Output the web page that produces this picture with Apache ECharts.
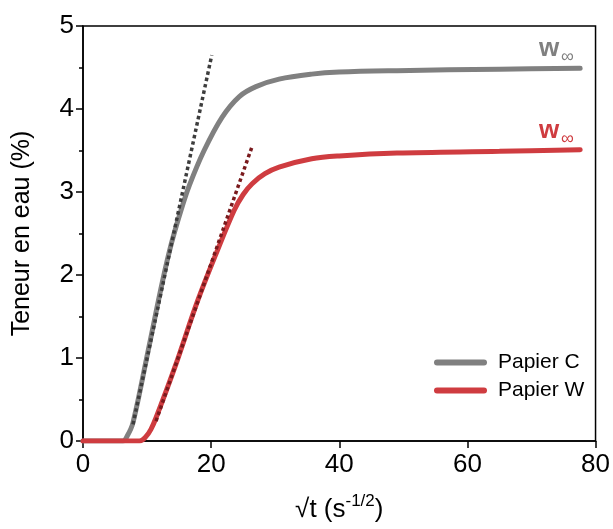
<!DOCTYPE html>
<html>
<head>
<meta charset="utf-8">
<script src="https://cdn.jsdelivr.net/npm/echarts@6/dist/echarts.min.js"></script>
<style>html,body{margin:0;padding:0;background:#fff}#c{width:613px;height:529px}</style>
</head>
<body>
<div id="c"></div>
<script>
// Data
var cX = [0, 6.2, 6.9, 7.8, 10.2, 12.4, 13.8, 15.3, 16.6, 18.9, 21.7, 24.4, 27, 30.6, 35.7, 40, 49, 65, 77.6];
var cY = [0, 0, 0.06, 0.22, 1.1, 1.92, 2.38, 2.78, 3.08, 3.5, 3.9, 4.15, 4.27, 4.36, 4.42, 4.445, 4.462, 4.48, 4.49];
var wX = [0, 8.8, 9.8, 10.6, 11.4, 14.3, 17.9, 21, 23.6, 25, 26.4, 28.4, 30.6, 35.7, 40, 49, 65, 77.6];
var wY = [0, 0, 0.05, 0.14, 0.28, 0.88, 1.69, 2.3, 2.78, 2.97, 3.1, 3.22, 3.3, 3.4, 3.435, 3.47, 3.49, 3.51];
var cTanX = [7.8, 20.1];
var cTanY = [0.2, 4.65];
var wTanX = [11.4, 26.4];
var wTanY = [0.24, 3.55];
var seriesNames = ['Papier C', 'Papier W'];
var xTicks = [0, 20, 40, 60, 80];
var yTicks = [0, 1, 2, 3, 4, 5];

function pairs(xs, ys) { return xs.map(function (x, i) { return [x, ys[i]]; }); }

var FONT = 'Liberation Sans, Arial, sans-serif';
var PILL = 'path://M3,0L50,0A3,3,0,0,1,50,6L3,6A3,3,0,0,1,3,0Z';
var chart = echarts.init(document.getElementById('c'), null, {renderer: 'canvas'});
chart.setOption({
  animation: false,
  backgroundColor: '#fff',
  grid: {left: 83, right: 15, top: 26, bottom: 88, show: true, borderColor: '#000', borderWidth: 1.5, backgroundColor: 'transparent'},
  legend: {
    data: seriesNames.map(function (n) { return {name: n, icon: PILL}; }),
    orient: 'vertical',
    left: 429, top: 347,
    itemWidth: 53, itemHeight: 6, itemGap: 7,
    textStyle: {fontFamily: FONT, fontSize: 21, color: '#000', padding: [0, 0, 0, 6]}
  },
  xAxis: {
    type: 'value', min: xTicks[0], max: xTicks[xTicks.length - 1], interval: 20,
    name: '√t (s{sup|-1/2})', nameLocation: 'middle', nameGap: 52,
    nameTextStyle: {fontFamily: FONT, fontSize: 26, color: '#000', rich: {sup: {fontFamily: FONT, fontSize: 17, color: '#000', verticalAlign: 'top', lineHeight: 34}}},
    axisLine: {lineStyle: {color: '#000', width: 1.5}},
    axisTick: {show: true, inside: false, length: 7, lineStyle: {color: '#000', width: 1.5}},
    splitLine: {show: false},
    axisLabel: {fontFamily: FONT, fontSize: 26, color: '#000', margin: 11}
  },
  yAxis: {
    type: 'value', min: yTicks[0], max: yTicks[yTicks.length - 1], interval: 1,
    name: 'Teneur en eau (%)', nameLocation: 'middle', nameGap: 48, nameRotate: 90,
    nameTextStyle: {fontFamily: FONT, fontSize: 25, color: '#000'},
    axisLine: {lineStyle: {color: '#000', width: 1.5}},
    axisTick: {show: true, inside: false, length: 7, lineStyle: {color: '#000', width: 1.5}},
    minorTick: {show: true, splitNumber: 2, length: 4, lineStyle: {color: '#000', width: 1.5}},
    splitLine: {show: false},
    axisLabel: {fontFamily: FONT, fontSize: 26, color: '#000', margin: 9}
  },
  series: [
    {name: seriesNames[0], type: 'line', data: pairs(cX, cY), symbol: 'none', smooth: 0.35,
     lineStyle: {color: '#808080', width: 5, cap: 'round'}, itemStyle: {color: '#808080'}, z: 2},
    {name: seriesNames[1], type: 'line', data: pairs(wX, wY), symbol: 'none', smooth: 0.35,
     lineStyle: {color: '#cf3c40', width: 5, cap: 'round'}, itemStyle: {color: '#cf3c40'}, z: 2},
    {name: 'tanC', type: 'line', data: pairs(cTanX, cTanY), symbol: 'none',
     lineStyle: {color: '#3d3d3d', width: 3.5, type: [3.5, 3], cap: 'butt'}, z: 3},
    {name: 'tanW', type: 'line', data: pairs(wTanX, wTanY), symbol: 'none',
     lineStyle: {color: '#7a1a1d', width: 3.5, type: [3.5, 3], cap: 'butt'}, z: 3}
  ],
  graphic: [
    {type: 'text', left: 539, top: 36, style: {text: 'w', font: 'bold 26px ' + FONT, fill: '#808080'}},
    {type: 'text', left: 561, top: 48, style: {text: '∞', font: '18px ' + FONT, fill: '#808080'}},
    {type: 'text', left: 539, top: 118, style: {text: 'w', font: 'bold 26px ' + FONT, fill: '#cf3c40'}},
    {type: 'text', left: 561, top: 130, style: {text: '∞', font: '18px ' + FONT, fill: '#cf3c40'}}
  ]
});
</script>
</body>
</html>
